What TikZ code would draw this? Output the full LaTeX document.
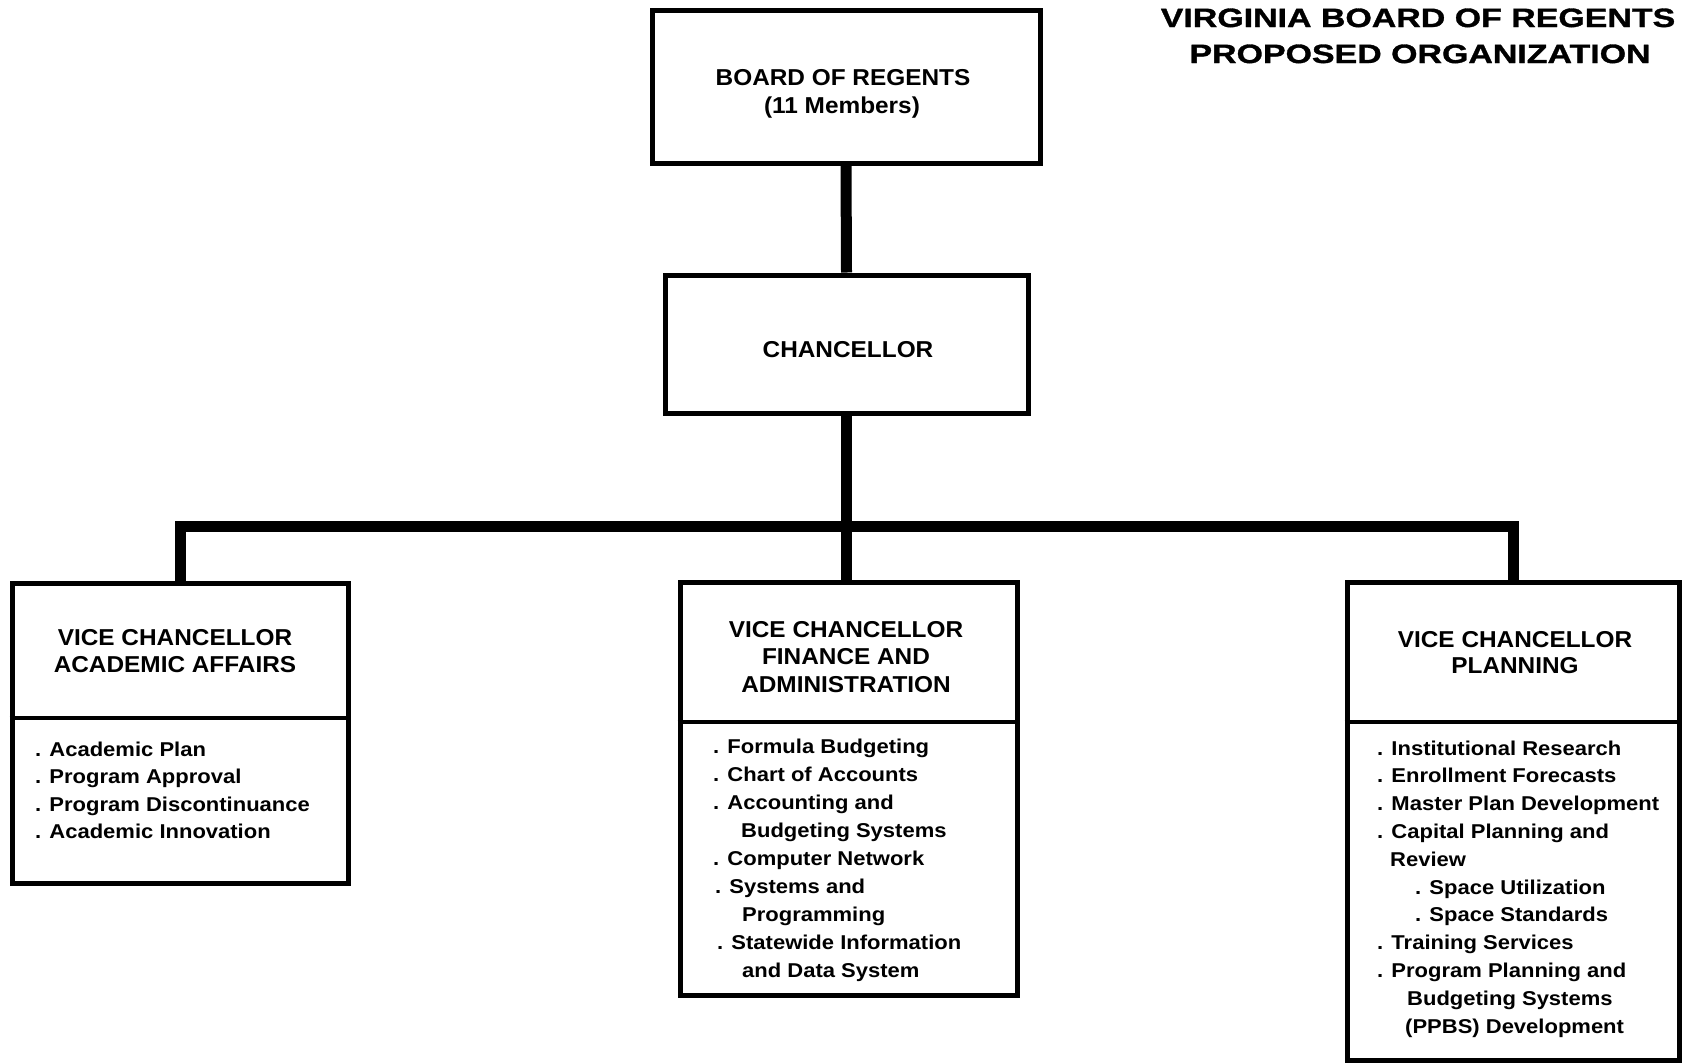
\documentclass[tikz,border=0pt]{standalone}
\usepackage{fontspec}
\newfontfamily\titlefontfam{Liberation Sans}[FakeStretch=1.28, FakeBold=1.2]
\newfontfamily\headfontfam{Liberation Sans}[FakeStretch=1.06]
\newfontfamily\itemfontfam{Liberation Sans}[FakeStretch=1.10]
\begin{document}
\begin{tikzpicture}[x=1pt,y=-1pt,
  box/.style={draw=black, line width=5pt, rectangle, inner sep=0pt, fill=white},
  conn/.style={draw=black, line width=11pt, line join=miter},
  divider/.style={draw=black, line width=3.5pt},
  ttl/.style={font=\titlefontfam\bfseries\fontsize{26.5}{30}\selectfont, anchor=base, inner sep=0pt},
  head/.style={font=\headfontfam\bfseries\fontsize{23}{28}\selectfont, anchor=base, inner sep=0pt},
  item/.style={font=\itemfontfam\bfseries\fontsize{20}{24}\selectfont, anchor=base west, inner sep=0pt}]
\fill[white] (0,0) rectangle (1689,1063);
\useasboundingbox (0,0) rectangle (1689,1063);

% boxes
\node[box, minimum width=388pt, minimum height=153pt] (board) at (846,86.5) {};
\node[box, minimum width=363pt, minimum height=138pt] (chan) at (846.5,344) {};
\node[box, minimum width=336pt, minimum height=300pt] (vca) at (180,733) {};
\node[box, minimum width=337pt, minimum height=413pt] (vcf) at (848.5,788.5) {};
\node[box, minimum width=332pt, minimum height=478pt] (vcp) at (1513,821) {};

% dividers
\draw[divider] (vca.west |- 0,718) -- (vca.east |- 0,718);
\draw[divider] (vcf.west |- 0,722) -- (vcf.east |- 0,722);
\draw[divider] (vcp.west |- 0,722) -- (vcp.east |- 0,722);

% connectors
\draw[conn] (board.south) -- (chan.north);
\draw[conn] (chan.south) -- (chan.south |- vcf.north);
\draw[conn] (vca.north) -- ++(0,-54) -| (vcp.north);

% title
\node[ttl] (t1) at (1418,27) {VIRGINIA BOARD OF REGENTS};
\node[ttl] (t2) at (1420,63) {PROPOSED ORGANIZATION};

% board and chancellor text
\node[head] (bt1) at (843,85) {BOARD OF REGENTS};
\node[head] (bt2) at (842,113) {(11 Members)};
\node[head] (ct) at (848,357) {CHANCELLOR};

% headers
\node[head] (ha1) at (175,645) {VICE CHANCELLOR};
\node[head] (ha2) at (175,672) {ACADEMIC AFFAIRS};
\node[head] (hf1) at (846,637) {VICE CHANCELLOR};
\node[head] (hf2) at (846,664.5) {FINANCE AND};
\node[head] (hf3) at (846,692) {ADMINISTRATION};
\node[head] (hp1) at (1515,647) {VICE CHANCELLOR};
\node[head] (hp2) at (1515,673) {PLANNING};

% academic items
\node[item] (a1) at (35,756) {. Academic Plan};
\node[item] (a2) at (35,783.5) {. Program Approval};
\node[item] (a3) at (35,811) {. Program Discontinuance};
\node[item] (a4) at (35,838.5) {. Academic Innovation};

% finance items
\node[item] (f1) at (713,753) {. Formula Budgeting};
\node[item] (f2) at (713,781) {. Chart of Accounts};
\node[item] (f3) at (713,809) {. Accounting and};
\node[item] (f4) at (741,837) {Budgeting Systems};
\node[item] (f5) at (713,865) {. Computer Network};
\node[item] (f6) at (715,893) {. Systems and};
\node[item] (f7) at (742,921) {Programming};
\node[item] (f8) at (717,949) {. Statewide Information};
\node[item] (f9) at (742,977) {and Data System};

% planning items
\node[item] (p1) at (1377,755) {. Institutional Research};
\node[item] (p2) at (1377,782.8) {. Enrollment Forecasts};
\node[item] (p3) at (1377,810.6) {. Master Plan Development};
\node[item] (p4) at (1377,838.4) {. Capital Planning and};
\node[item] (p5) at (1390,866.2) {Review};
\node[item] (p6) at (1415,894) {. Space Utilization};
\node[item] (p7) at (1415,921.8) {. Space Standards};
\node[item] (p8) at (1377,949.6) {. Training Services};
\node[item] (p9) at (1377,977.4) {. Program Planning and};
\node[item] (p10) at (1407,1005.2) {Budgeting Systems};
\node[item] (p11) at (1405,1033) {(PPBS) Development};
\end{tikzpicture}
\end{document}
